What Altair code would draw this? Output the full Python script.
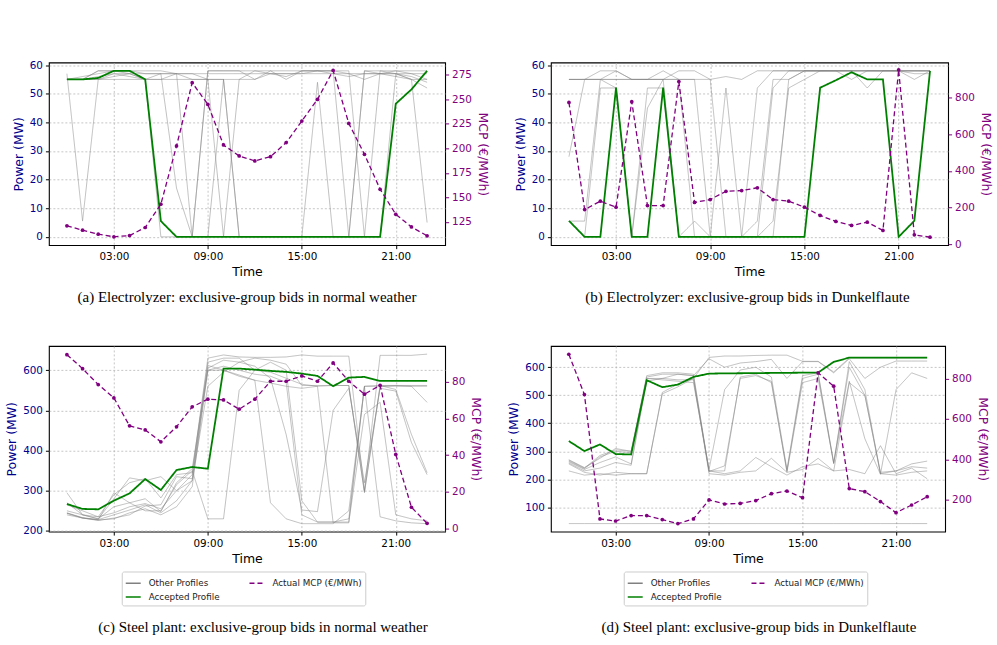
import altair as alt
import pandas as pd

hours = list(range(24))
SERIES = ["Other Profiles", "Accepted Profile", "Actual MCP (€/MWh)"]

# ---------------- Panel (a): Electrolyzer, normal weather ----------------
a_mcp = [120.9, 116.5, 112.4, 109.7, 111.0, 119.2, 143.0, 202.4, 266.9, 244.8, 203.4, 192.2,
         187.1, 191.5, 205.8, 227.8, 249.9, 279.4, 225.4, 193.9, 158.2, 132.7, 119.8, 110.7]
a_accepted = [55, 55, 55.5, 58, 58, 55, 5.5, 0, 0, 0, 0, 0, 0, 0, 0, 0, 0, 0, 0, 0, 0, 46.5, 51.5, 58]
a_others = [
    [57, 5.5, 55, 57, 57, 57, 57, 57, 57, 57, 57, 57, 57, 57, 57, 57, 57, 57, 57, 57, 57, 57, 57, 55],
    [55, 55, 58, 58, 58, 58, 58, 57, 0, 58, 58, 58, 58, 58, 55, 58, 58, 58, 58, 0, 58, 58, 58, 58],
    [55, 55, 55, 55, 55, 55, 0, 0, 0, 58, 58, 58, 55, 58, 58, 58, 58, 58, 0, 58, 57, 58, 57, 57],
    [55, 56, 57, 58, 57, 55, 57, 17, 0, 0, 55, 0, 0, 0, 0, 0, 54, 0, 0, 0, 0, 57, 55, 5],
    [55, 55, 56, 57, 56, 55, 55, 57, 55, 55, 55, 55, 58, 57, 57, 57, 58, 58, 57, 55, 57, 56, 55, 52],
    [55, 55, 58, 58, 58, 57, 57, 57, 57, 55, 0, 55, 55, 57, 56, 58, 58, 57, 56, 57, 57, 57, 56, 54],
    [55, 55, 55, 56, 57, 55, 55, 55, 55, 55, 55, 0, 0, 0, 0, 0, 0, 0, 0, 58, 58, 57, 55, 55],
]

# ---------------- Panel (b): Electrolyzer, Dunkelflaute ----------------
b_mcp = [775, 189, 235, 202, 779, 211, 211, 889, 228, 244, 289, 293,
         308, 244, 235, 202, 157, 124, 102, 120, 75, 953, 51, 38]
b_accepted = [5.6, 0, 0, 52.1, 0, 0, 52.1, 0, 0, 0, 0, 0, 0, 0, 0, 0, 52.1, 54.7, 57.5, 55, 55, 0, 5.6, 58]
b_others = [
    [55, 55, 58, 58, 55, 55, 58, 55, 55, 0, 0, 0, 52, 58, 58, 58, 58, 58, 58, 58, 58, 58, 55, 58],
    [28, 55, 55, 55, 55, 55, 55, 55, 55, 55, 0, 0, 0, 52, 58, 58, 58, 58, 58, 58, 58, 58, 58, 58],
    [5.5, 5.5, 55, 52, 0, 52, 52, 0, 5.5, 0, 52, 0, 0, 5.5, 52, 55, 58, 58, 58, 52, 58, 58, 58, 58],
    [55, 55, 55, 58, 55, 55, 55, 58, 58, 55, 56, 55, 58, 58, 58, 58, 58, 58, 58, 58, 58, 58, 58, 58],
    [5.5, 0, 52, 52, 0, 45, 55, 0, 0, 0, 0, 0, 5.5, 55, 55, 58, 58, 58, 55, 58, 58, 58, 57, 57],
    [55, 55, 55, 55, 55, 55, 55, 55, 0, 0, 0, 0, 0, 0, 55, 58, 58, 58, 58, 58, 58, 58, 58, 58],
]

# ---------------- Panel (c): Steel plant, normal weather ----------------
c_mcp = [94.9, 87.3, 78.6, 71.3, 56.0, 53.8, 47.3, 55.5, 66.4, 70.6, 70.2, 65.1,
         70.6, 80.4, 80.4, 83.3, 80.4, 90.4, 80.4, 73.3, 78.2, 40.4, 11.5, 2.7]
c_accepted = [267, 254.7, 253.7, 275.3, 293.4, 329, 301.9, 351.5, 359, 354.8, 604, 604,
              601.5, 598.3, 595.8, 591.6, 585.8, 560.2, 581.6, 583.4, 573.4, 573.4, 573.4, 573.4]
c_others = [
    [245, 233, 228, 240, 252, 265, 245, 275, 325, 612, 600, 588, 575, 568, 560, 555, 560, 562, 562, 297, 562, 562, 562, 562],
    [244, 232, 227, 230, 245, 255, 240, 260, 310, 600, 610, 600, 590, 585, 570, 240, 222, 222, 230, 560, 562, 552, 440, 345],
    [295, 240, 230, 280, 332, 325, 335, 300, 325, 560, 595, 620, 630, 625, 615, 562, 562, 562, 562, 295, 560, 562, 560, 520],
    [265, 250, 235, 290, 320, 330, 282, 340, 345, 630, 638, 633, 632, 632, 633, 638, 635, 635, 635, 300, 637, 637, 637, 640],
    [240, 232, 228, 295, 270, 250, 250, 315, 350, 230, 230, 550, 600, 620, 600, 275, 222, 222, 222, 490, 520, 240, 230, 225],
    [244, 232, 226, 232, 240, 262, 265, 335, 330, 600, 600, 585, 575, 270, 230, 218, 218, 218, 250, 560, 235, 225, 220, 218],
    [270, 240, 230, 260, 270, 280, 248, 320, 355, 605, 625, 620, 610, 580, 440, 252, 248, 500, 555, 320, 555, 548, 420, 340],
    [250, 240, 235, 245, 260, 268, 255, 300, 340, 620, 630, 630, 600, 595, 580, 565, 560, 220, 220, 560, 560, 560, 560, 560],
]

# ---------------- Panel (d): Steel plant, Dunkelflaute ----------------
d_mcp = [920, 721, 106, 96, 123, 123, 103, 83, 106, 200, 180, 183,
         197, 231, 244, 211, 828, 762, 256, 241, 192, 137, 175, 216]
d_accepted = [336.5, 300.9, 324.4, 290.2, 288.7, 553.7, 528.8, 538, 565.5, 577.2, 578, 578.5,
              579, 579.5, 580, 580.5, 580.8, 618.9, 634.2, 634, 634, 634, 634, 634]
d_others = [
    [42] * 24,
    [268, 240, 285, 305, 300, 570, 580, 580, 575, 230, 230, 565, 575, 545, 230, 560, 575, 255, 620, 520, 220, 230, 245, 240],
    [265, 238, 280, 300, 295, 565, 575, 575, 570, 228, 248, 560, 570, 550, 225, 545, 560, 258, 600, 500, 220, 215, 225, 230],
    [255, 225, 215, 225, 220, 220, 510, 540, 560, 635, 640, 640, 642, 643, 643, 621, 621, 583, 633, 633, 633, 633, 633, 633],
    [262, 235, 260, 280, 255, 560, 555, 550, 545, 235, 520, 590, 600, 565, 235, 570, 580, 260, 550, 345, 218, 520, 580, 560],
    [230, 215, 220, 215, 220, 220, 505, 530, 560, 220, 215, 225, 230, 275, 225, 235, 275, 230, 235, 220, 320, 220, 240, 202],
    [270, 242, 275, 310, 300, 560, 560, 555, 555, 230, 220, 230, 278, 245, 215, 245, 255, 230, 545, 500, 225, 230, 255, 265],
    [258, 230, 240, 260, 250, 550, 560, 575, 570, 630, 600, 615, 620, 628, 560, 620, 620, 580, 630, 560, 600, 622, 622, 622],
]

captions = [
    "(a) Electrolyzer: exclusive-group bids in normal weather",
    "(b) Electrolyzer: exclusive-group bids in Dunkelflaute",
    "(c) Steel plant: exclusive-group bids in normal weather",
    "(d) Steel plant: exclusive-group bids in Dunkelflaute",
]

LEFT_C = "darkblue"
RIGHT_C = "purple"


def make_panel(others, accepted, mcp, ldom, rdom, lticks, rticks, w, h, caption,
               show_legend, title_offset, title_dx):
    rows = []
    for i, prof in enumerate(others):
        for hh, v in zip(hours, prof):
            rows.append({"hour": hh, "power": v, "profile": "p%d" % i, "series": SERIES[0]})
    others_df = pd.DataFrame(rows)
    acc_df = pd.DataFrame({"hour": hours, "power": accepted, "series": SERIES[1]})
    mcp_df = pd.DataFrame({"hour": hours, "mcp": mcp, "series": SERIES[2]})

    if show_legend:
        leg = alt.Legend(title=None, orient="none", legendX=73, legendY=226, columns=2,
                         symbolType="stroke", symbolSize=225, symbolOpacity=1,
                         symbolStrokeWidth=1.5,
                         labelFont="DejaVu Sans", labelFontSize=8.8, labelColor="#222222",
                         strokeColor="#cccccc", fillColor="white", padding=3, cornerRadius=2,
                         rowPadding=0, columnPadding=26, labelOffset=7, labelLimit=200)
    else:
        leg = None

    x = alt.X("hour:Q", scale=alt.Scale(domain=[-1.15, 24.15], nice=False, zero=False),
              axis=alt.Axis(values=[3, 9, 15, 21], title="Time", grid=True,
                            labelExpr="(datum.value < 10 ? '0' : '') + datum.value + ':00'"))
    y_left = alt.Y("power:Q", scale=alt.Scale(domain=ldom, nice=False, zero=False),
                   axis=alt.Axis(values=lticks, title="Power (MW)", orient="left", grid=True,
                                 labelColor=LEFT_C, titleColor=LEFT_C))
    y_right = alt.Y("mcp:Q", scale=alt.Scale(domain=rdom, nice=False, zero=False),
                    axis=alt.Axis(values=rticks, title="MCP (€/MWh)", orient="right", grid=False,
                                  labelColor=RIGHT_C, titleColor=RIGHT_C, tickColor=RIGHT_C))
    color = alt.Color("series:N", scale=alt.Scale(domain=SERIES, range=["#808080", "green", "purple"]),
                      legend=leg)
    dash = alt.StrokeDash("series:N", scale=alt.Scale(domain=SERIES, range=[[1, 0], [1, 0], [5, 3]]),
                          legend=leg)

    gray = alt.Chart(others_df).mark_line(opacity=0.5, strokeWidth=1.0).encode(
        x=x, y=y_left, color=color, strokeDash=dash, detail="profile:N")
    green = alt.Chart(acc_df).mark_line(strokeWidth=1.8).encode(
        x=x, y=y_left, color=color, strokeDash=dash)
    left = alt.layer(gray, green)

    mline = alt.Chart(mcp_df).mark_line(strokeWidth=1.3).encode(
        x=x, y=y_right, color=color, strokeDash=dash)
    mpts = alt.Chart(mcp_df).mark_circle(size=14, color="purple", opacity=1).encode(x=x, y=y_right)
    right = alt.layer(mline, mpts)

    return alt.layer(left, right).resolve_scale(y="independent").properties(
        width=w, height=h,
        title=alt.TitleParams(caption, orient="bottom", anchor="middle", font="Liberation Serif",
                              fontSize=15, fontWeight="normal", color="black",
                              offset=title_offset, dx=title_dx))


pa = make_panel(a_others, a_accepted, a_mcp, [-2.9, 60.9], [101.2, 287.5],
                [0, 10, 20, 30, 40, 50, 60], [125, 150, 175, 200, 225, 250, 275],
                397, 183, captions[0], False, 12, 0)
pb = make_panel(b_others, b_accepted, b_mcp, [-2.9, 60.9], [-5.5, 993],
                [0, 10, 20, 30, 40, 50, 60], [0, 200, 400, 600, 800],
                398, 183, captions[1], False, 12, -2)
pc = make_panel(c_others, c_accepted, c_mcp, [198.3, 660.4], [-1.8, 99.7],
                [200, 300, 400, 500, 600], [0, 20, 40, 60, 80],
                397, 186, captions[2], True, 14, 16)
pd_ = make_panel(d_others, d_accepted, d_mcp, [13.5, 675.9], [43.7, 961],
                 [100, 200, 300, 400, 500, 600], [200, 400, 600, 800],
                 395, 186, captions[3], True, 14, 11)

chart = alt.concat(pa, pb, pc, pd_, columns=2, spacing={"row": 101, "column": 106},
                   bounds="flush").resolve_scale(
    color="independent", strokeDash="independent"
).configure(
    padding={"left": 5, "top": 59, "right": 5, "bottom": 5},
    background="white",
    font="DejaVu Sans",
).configure_view(
    stroke="black", strokeWidth=1.1
).configure_axis(
    labelFont="DejaVu Sans", labelFontSize=10.4, titleFont="DejaVu Sans", titleFontSize=12.5,
    titleFontWeight="normal", tickSize=3.5, tickColor="black", domain=False,
    labelColor="black", titleColor="black", gridColor="#b0b0b0", gridDash=[2, 2],
    gridWidth=0.8, gridOpacity=0.9, labelPadding=3, titlePadding=4
)

chart.save("out.html", embed_options={"renderer": "svg", "actions": False})
